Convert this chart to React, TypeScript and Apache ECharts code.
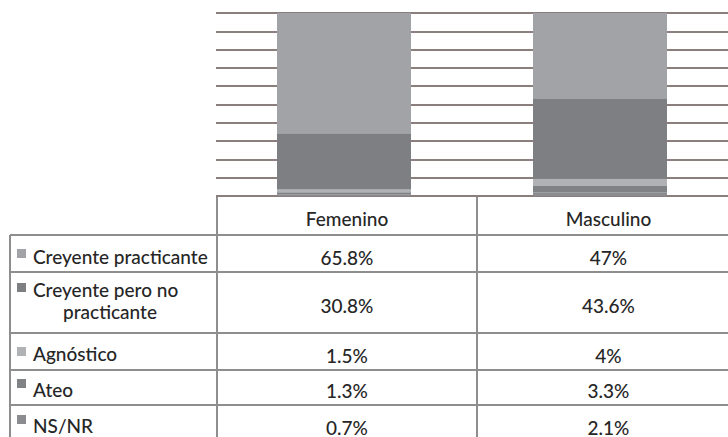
import React, { useEffect, useRef } from "react";
import * as echarts from "echarts";

const categories = ["Femenino", "Masculino"];
const seriesNames = [
  "Creyente practicante",
  "Creyente pero no\npracticante",
  "Agnóstico",
  "Ateo",
  "NS/NR",
];
const practicante = [65.8, 47];
const peroNoPracticante = [30.8, 43.6];
const agnostico = [1.5, 4];
const ateo = [1.3, 3.3];
const nsnr = [0.7, 2.1];
const seriesValues = [practicante, peroNoPracticante, agnostico, ateo, nsnr];
const seriesColors = ["#a2a3a7", "#7d7f83", "#b0b2b6", "#808286", "#8a8c90"];
const yTicks = [0, 10, 20, 30, 40, 50, 60, 70, 80, 90, 100];

const FONT = "Lato, 'Open Sans', sans-serif";
const TXT = "#262626";
const LINE = "#8e8e8e";
const FS = 19;

export default function App() {
  const ref = useRef<HTMLDivElement>(null);
  useEffect(() => {
    if (!ref.current) return;
    const chart = echarts.init(ref.current, null, { renderer: "svg" });

    const xLeft = 10;
    const xCol = [217, 477, 740];
    const headerTop = 196;
    const rowEdges = [235, 272, 333, 370, 405, 442];
    const textCenters = [256, 0, 353, 389, 425];
    const valueCenters = [257, 305, 355, 390, 427];
    const squareTops = [249, 283, 347, 379, 415];
    const font = `500 ${FS}px ${FONT}`;

    const g: any[] = [];
    g.push({ type: "line", shape: { x1: xCol[0], y1: headerTop, x2: 740, y2: headerTop }, style: { stroke: LINE, lineWidth: 2 } });
    rowEdges.slice(0, 5).forEach((y) => {
      g.push({ type: "line", shape: { x1: xLeft, y1: y, x2: 740, y2: y }, style: { stroke: LINE, lineWidth: 2 } });
    });
    g.push({ type: "line", shape: { x1: xLeft, y1: rowEdges[0], x2: xLeft, y2: 440 }, style: { stroke: LINE, lineWidth: 2 } });
    g.push({ type: "line", shape: { x1: xCol[0], y1: headerTop, x2: xCol[0], y2: 440 }, style: { stroke: LINE, lineWidth: 2 } });
    g.push({ type: "line", shape: { x1: xCol[1], y1: headerTop, x2: xCol[1], y2: 440 }, style: { stroke: LINE, lineWidth: 2 } });

    categories.forEach((c, i) => {
      g.push({
        type: "text",
        x: (xCol[i] + xCol[i + 1]) / 2,
        y: 218,
        style: { text: c, fill: TXT, font, align: "center", verticalAlign: "middle" },
      });
    });

    seriesNames.forEach((name, r) => {
      g.push({
        type: "rect",
        shape: { x: 17, y: squareTops[r], width: 9, height: 9 },
        style: { fill: seriesColors[r] },
      });
      if (name.includes("\n")) {
        const lines = name.split("\n");
        g.push({ type: "text", x: 33, y: 289, style: { text: lines[0], fill: TXT, font, align: "left", verticalAlign: "middle" } });
        g.push({ type: "text", x: 110, y: 311, style: { text: lines[1], fill: TXT, font, align: "center", verticalAlign: "middle" } });
      } else {
        g.push({ type: "text", x: 33, y: textCenters[r], style: { text: name, fill: TXT, font, align: "left", verticalAlign: "middle" } });
      }
      categories.forEach((_, ci) => {
        g.push({
          type: "text",
          x: (xCol[ci] + xCol[ci + 1]) / 2,
          y: valueCenters[r],
          style: { text: `${seriesValues[r][ci]}%`, fill: TXT, font, align: "center", verticalAlign: "middle" },
        });
      });
    });

    const stackOrder = [4, 3, 2, 1, 0];
    chart.setOption({
      animation: false,
      grid: { left: 216, top: 13, width: 522, height: 183 },
      xAxis: {
        type: "category",
        data: categories,
        axisLine: { show: false },
        axisTick: { show: false },
        axisLabel: { show: false },
      },
      yAxis: {
        type: "value",
        min: yTicks[0],
        max: yTicks[yTicks.length - 1],
        interval: 10,
        axisLine: { show: false },
        axisTick: { show: false },
        axisLabel: { show: false },
        splitLine: { lineStyle: { color: "#8a7f7c", width: 2 } },
      },
      series: stackOrder.map((i) => ({
        name: seriesNames[i],
        type: "bar",
        stack: "total",
        barWidth: 134,
        data: seriesValues[i],
        itemStyle: { color: seriesColors[i] },
      })),
      graphic: g,
    });
    return () => chart.dispose();
  }, []);
  return (
    <div
      ref={ref}
      style={{ position: "fixed", left: 0, top: 0, width: 728, height: 437, background: "#ffffff" }}
    />
  );
}
